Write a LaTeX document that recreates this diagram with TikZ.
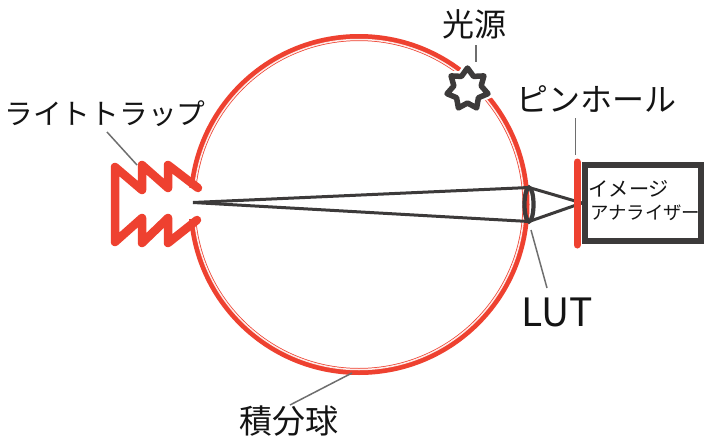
\documentclass[tikz,border=0pt]{standalone}
\usepackage{fontspec}
\usetikzlibrary{shapes.geometric}
\setmainfont{Noto Sans CJK JP}
\definecolor{ringred}{HTML}{EE4130}
\definecolor{darkline}{HTML}{3C3A3A}
\definecolor{leader}{HTML}{6E6E6E}
\tikzset{
  ringline/.style={draw=ringred,line width=7pt},
  ringgap/.style={draw=white!90!ringred,line width=1.5pt},
  trapline/.style={draw=ringred,line width=8.5pt,line join=round,line cap=round},
  rayline/.style={draw=darkline,line width=3pt},
  leaderline/.style={draw=leader,line width=1.5pt},
  label/.style={inner sep=0pt,text=black!92},
}
\begin{document}
\begin{tikzpicture}[x=1pt,y=-1pt]
\useasboundingbox (0,0) rectangle (704,442);
% sphere
\coordinate (c) at (359,204.5);
\draw[ringline] (c) circle[radius=167pt];
\draw[ringgap] (c) circle[radius=165pt];
\fill[white] (185,188) rectangle (206,219);
% light trap
\draw[trapline] (198,188) -- (168,165) -- (168,188) -- (142,165) -- (142,190) -- (115,167)
  -- (115,242) -- (142,218) -- (142,243) -- (168,218) -- (168,243) -- (197,220);
% rays
\coordinate (apex) at (193,202.5);
\coordinate (focus) at (582,203);
\node[draw=darkline,line width=4.2pt,ellipse,minimum width=9pt,minimum height=34pt,inner sep=0pt,outer sep=0pt] (lens) at (529,204.5) {};
\draw[rayline] (apex) -- (lens.north);
\draw[rayline] (apex) -- (lens.south);
\draw[rayline] (lens.north) -- (focus);
\draw[rayline] (lens.south) -- (focus);
% pinhole and analyser
\coordinate (pt) at (577,162);
\coordinate (pb) at (577,245);
\draw[trapline,line width=7pt] (pt) -- (pb);
\node[draw=darkline,fill=white,line width=6pt,minimum width=116pt,minimum height=76pt,inner sep=0pt,outer sep=0pt] (box) at (643,203) {};
\node[label,font=\fontsize{20.2pt}{21pt}\selectfont,anchor=west] (ia1) at (588.5,189) {イメージ};
\node[label,font=\fontsize{18.4pt}{20pt}\selectfont,anchor=west] (ia2) at (590,213) {アナライザー};
% star
\begin{scope}[shift={(467.5,89)}]
\draw[draw=darkline,fill=white,line width=5.5pt,line join=round,preaction={draw=white,line width=10pt}]
  (-90:21) \foreach \i in {0,...,6} { -- ({-90+(\i+0.5)*360/7}:14) -- ({-90+(\i+1)*360/7}:21) } -- cycle;
\end{scope}
% labels
\node[label,font=\fontsize{32pt}{34pt}\selectfont] (src) at (474.5,24) {光源};
\node[label,font=\fontsize{32pt}{34pt}\selectfont] (pin) at (596,99) {ピンホール};
\node[label,font=\fontsize{28.7pt}{30pt}\selectfont] (trap) at (105,114) {ライトトラップ};
\node[label,font=\fontsize{39pt}{41pt}\selectfont] (lut) at (557,312) {LUT};
\node[label,font=\fontsize{33pt}{35pt}\selectfont] (sph) at (289,421) {積分球};
% leaders
\coordinate (lsrc) at (476,45);
\coordinate (lsrce) at (476,62);
\draw[leaderline] (lsrc) -- (lsrce);
\coordinate (lpin) at (575.5,118);
\coordinate (lpine) at (575.5,155);
\draw[leaderline] (lpin) -- (lpine);
\coordinate (ltrap) at (107,132);
\coordinate (ltrape) at (137,165);
\draw[leaderline] (ltrap) -- (ltrape);
\coordinate (llut) at (531,230);
\coordinate (llute) at (547,288);
\draw[leaderline] (llut) -- (llute);
\coordinate (lsph) at (290,405);
\coordinate (lsphe) at (352,373);
\draw[leaderline] (lsph) -- (lsphe);
\end{tikzpicture}
\end{document}
